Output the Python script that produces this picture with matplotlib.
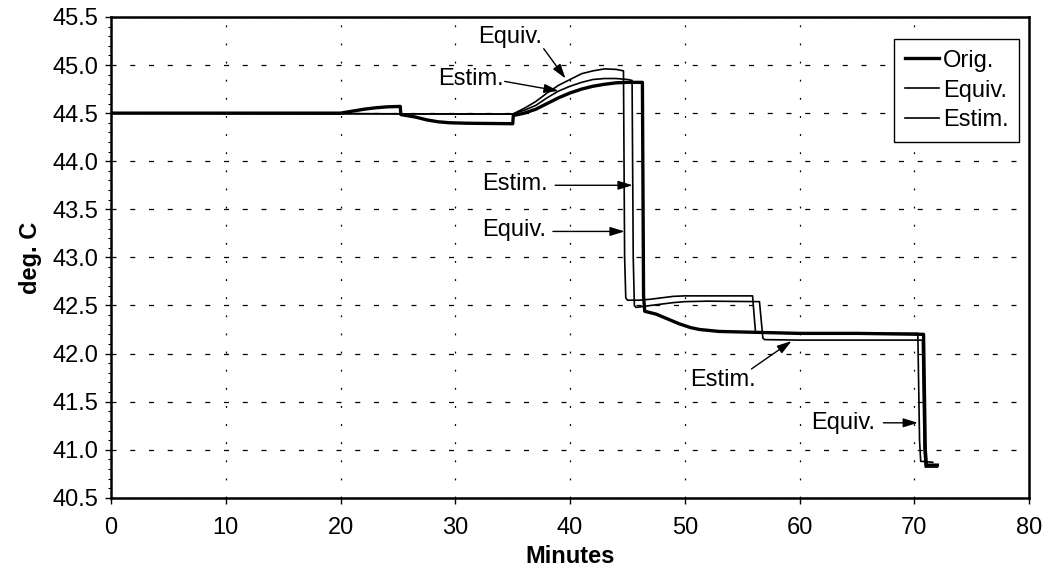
import matplotlib
matplotlib.use('Agg')
import matplotlib.pyplot as plt
from matplotlib.ticker import MultipleLocator, FormatStrFormatter

plt.rcParams['font.family'] = ['Liberation Sans', 'DejaVu Sans']

# ---- data (minutes, deg. C) ----
orig_t = [0, 20, 21, 22, 23, 24, 25.2, 25.25, 26.5, 27.5, 28.5, 29.5, 31, 35.0, 35.05,
          36, 37, 38, 39, 40, 41, 42, 43, 44, 45, 46.3, 46.4, 46.5,
          47.5, 48.5, 49.5, 50.5, 51.3, 53, 56.5, 60, 65, 70.8, 70.95, 71.05, 72.0]
orig_y = [44.50, 44.50, 44.52, 44.54, 44.555, 44.565, 44.57, 44.485, 44.46, 44.43, 44.41, 44.40, 44.395, 44.39, 44.475,
          44.50, 44.54, 44.60, 44.66, 44.71, 44.75, 44.78, 44.80, 44.815, 44.82, 44.82, 42.6, 42.44,
          42.41, 42.36, 42.31, 42.27, 42.25, 42.23, 42.22, 42.21, 42.21, 42.20, 41.0, 40.84, 40.84]

equiv_t = [0, 35.0, 36, 37, 38, 39, 40, 41, 42, 43, 44, 44.65, 44.75, 44.85, 45.0,
           46, 47, 48, 49, 50, 53, 55.9, 56.0, 56.15, 56.3, 60, 65, 70.3, 70.45, 70.55, 71.6]
equiv_y = [44.50, 44.49, 44.55, 44.62, 44.71, 44.79, 44.85, 44.91, 44.94, 44.96, 44.955, 44.94, 43.0, 42.58, 42.555,
           42.555, 42.565, 42.58, 42.595, 42.60, 42.60, 42.60, 42.45, 42.23, 42.215, 42.21, 42.21, 42.21, 41.1, 40.88, 40.87]

estim_t = [0, 35.0, 36, 37, 38, 39, 40, 41, 42, 43, 44, 45, 45.4, 45.5, 45.6, 45.75,
           47, 48, 49, 50, 52, 56.5, 56.65, 56.8, 56.95, 60, 65, 70.7, 70.85, 70.95, 72.0]
estim_y = [44.50, 44.49, 44.53, 44.58, 44.66, 44.73, 44.78, 44.82, 44.85, 44.86, 44.86, 44.85, 44.84, 43.0, 42.5, 42.48,
           42.50, 42.515, 42.53, 42.54, 42.545, 42.54, 42.35, 42.16, 42.145, 42.14, 42.14, 42.14, 41.0, 40.82, 40.82]

series_labels = ['Orig.', 'Equiv.', 'Estim.']

x_ticks = [0, 10, 20, 30, 40, 50, 60, 70, 80]
y_ticks = [40.5, 41.0, 41.5, 42.0, 42.5, 43.0, 43.5, 44.0, 44.5, 45.0, 45.5]

# annotations: label, text position, arrow tail, arrow tip
ann_labels = ['Equiv.', 'Estim.', 'Estim.', 'Equiv.', 'Estim.', 'Equiv.']
ann_text_xy = [(34.8, 45.29), (31.4, 44.86), (35.2, 43.76), (35.1, 43.29), (53.3, 41.73), (63.8, 41.28)]
ann_tail_xy = [(37.7, 45.17), (34.3, 44.83), (38.7, 43.75), (38.5, 43.27), (55.8, 41.84), (67.3, 41.28)]
ann_tip_xy = [(39.6, 44.86), (39.0, 44.73), (45.45, 43.75), (44.75, 43.27), (59.3, 42.13), (70.3, 41.28)]

# ---- figure ----
fig = plt.figure(figsize=(10.48, 5.85), dpi=100)
ax = fig.add_axes([0.106, 0.149, 0.876, 0.822])

FS = 17

l1, = ax.plot(orig_t, orig_y, color='black', lw=2.4, label=series_labels[0], zorder=4)
l2, = ax.plot(equiv_t, equiv_y, color='black', lw=1.2, label=series_labels[1], zorder=3)
l3, = ax.plot(estim_t, estim_y, color='black', lw=1.2, label=series_labels[2], zorder=3)

ax.set_xlim(0, 80)
ax.set_ylim(40.5, 45.5)
ax.set_xticks(x_ticks)
ax.set_yticks(y_ticks)
ax.yaxis.set_minor_locator(MultipleLocator(0.1))
ax.yaxis.set_major_formatter(FormatStrFormatter('%.1f'))

ax.yaxis.grid(True, which='major', color='black', lw=0.9, linestyle=(0, (4, 11)))
ax.xaxis.grid(True, which='major', color='black', lw=0.9, linestyle=(0, (1.5, 13)))
ax.set_axisbelow(True)

for s in ax.spines.values():
    s.set_linewidth(1.8)
    s.set_color('black')

ax.tick_params(axis='both', which='major', labelsize=FS, direction='out', length=4, width=1, colors='black')
ax.tick_params(axis='x', pad=10)
ax.tick_params(axis='y', pad=5)
ax.tick_params(axis='y', which='minor', direction='out', length=2.5, width=0.8)

ax.set_xlabel('Minutes', fontsize=FS, fontweight='bold', labelpad=4)
ax.set_ylabel('deg. C', fontsize=FS, fontweight='bold', labelpad=8)

for lab, txy, tail, tip in zip(ann_labels, ann_text_xy, ann_tail_xy, ann_tip_xy):
    ax.text(txy[0], txy[1], lab, fontsize=FS, ha='center', va='center', zorder=6)
    ax.annotate('', xy=tip, xytext=tail,
                arrowprops=dict(arrowstyle='-|>,head_length=0.55,head_width=0.17',
                                color='black', lw=1.0, shrinkA=0, shrinkB=0,
                                mutation_scale=16),
                zorder=6)

leg = ax.legend(handles=[l1, l2, l3], loc='upper right', bbox_to_anchor=(0.989, 0.954),
                borderaxespad=0, fontsize=FS, frameon=True, fancybox=False,
                edgecolor='black', framealpha=1, handlelength=1.45, handletextpad=0.15,
                labelspacing=0.33, borderpad=0.45)
leg.get_frame().set_linewidth(1.0)

fig.savefig('out.png', dpi=100)
